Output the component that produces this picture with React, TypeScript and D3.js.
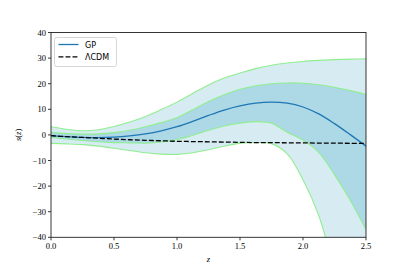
import React from "react";
import * as d3 from "d3";

const zGrid = [0, 0.125, 0.25, 0.375, 0.5, 0.625, 0.75, 0.875, 1.0, 1.125, 1.25, 1.375, 1.5, 1.625, 1.75, 1.875, 2.0, 2.125, 2.25, 2.375, 2.5];
const upper2 = [3.2, 2.2, 1.6, 2.0, 3.3, 5.0, 7.2, 9.9, 12.8, 16.2, 19.5, 22.2, 24.2, 25.9, 27.2, 28.1, 28.7, 29.1, 29.4, 29.6, 29.7];
const upper1 = [1.0, 0.5, 0.3, 0.4, 0.9, 1.8, 3.2, 4.8, 6.7, 9.8, 13.0, 15.7, 17.8, 19.2, 20.0, 20.3, 20.2, 19.6, 18.6, 17.3, 15.8];
const meanGP = [-0.3, -0.7, -1.0, -1.1, -0.9, -0.4, 0.4, 1.6, 3.2, 5.3, 7.6, 9.7, 11.3, 12.4, 12.8, 12.4, 10.9, 8.2, 4.4, 0.1, -4.4];
const lower1 = [-1.0, -1.6, -2.2, -2.7, -3.0, -3.1, -3.2, -2.8, -1.8, -0.1, 1.8, 3.5, 4.6, 5.2, 4.6, 1.0, -2.0, -6.8, -15.5, -25.5, -37];
const lower2 = [-3.3, -3.5, -3.8, -4.4, -5.2, -6.1, -7.0, -7.5, -7.6, -7.0, -5.8, -4.4, -3.3, -3.0, -3.4, -7.4, -17.5, -31.5, -53, -75, -100];
const lcdm = [-0.3, -0.7, -1.0, -1.3, -1.6, -1.9, -2.1, -2.3, -2.5, -2.6, -2.7, -2.8, -2.9, -3.0, -3.0, -3.1, -3.1, -3.2, -3.2, -3.3, -3.3];

const xTicks = [0, 0.5, 1.0, 1.5, 2.0, 2.5];
const yTicks = [-40, -30, -20, -10, 0, 10, 20, 30, 40];

const W = 407, H = 271;
const left = 51, right = 366, top = 32.5, bottom = 237.3;

export default function App() {
  const x = d3.scaleLinear().domain([0, 2.5]).range([left, right]);
  const y = d3.scaleLinear().domain([-40, 40]).range([bottom, top]);
  const curve = d3.curveCatmullRom.alpha(0.5);
  const idx = zGrid.map((_, i) => i);
  const area = (lo: number[], hi: number[]) =>
    d3.area<number>().x(i => x(zGrid[i])).y0(i => y(lo[i])).y1(i => y(hi[i])).curve(curve)(idx) || "";
  const line = (v: number[]) =>
    d3.line<number>().x(i => x(zGrid[i])).y(i => y(v[i])).curve(curve)(idx) || "";
  const serif = "'Liberation Serif', 'DejaVu Serif', serif";
  const sans = "'DejaVu Sans', sans-serif";
  const fmt = (v: number) => (v < 0 ? "\u2212" + Math.abs(v) : String(v));
  return (
    <svg width={W} height={H} style={{ position: "fixed", left: 0, top: 0, background: "#fff" }}>
      <defs>
        <clipPath id="plotclip">
          <rect x={left} y={top} width={right - left} height={bottom - top} />
        </clipPath>
      </defs>
      <g clipPath="url(#plotclip)">
        <path d={area(lower2, upper2)} fill="#d6ebf2" />
        <path d={area(lower1, upper1)} fill="#add8e6" />
        {[upper2, upper1, lower1, lower2].map((s, k) => (
          <path key={k} d={line(s)} fill="none" stroke="#90ee90" strokeWidth={1.1} />
        ))}
        <path d={line(meanGP)} fill="none" stroke="#1f77b4" strokeWidth={1.3} />
        <path d={line(lcdm)} fill="none" stroke="#000" strokeWidth={1.3} strokeDasharray="4.9,2.1" />
      </g>
      <rect x={left} y={top} width={right - left} height={bottom - top} fill="none" stroke="#222" strokeWidth={0.9} />
      {xTicks.map(t => (
        <g key={"x" + t}>
          <line x1={x(t)} x2={x(t)} y1={bottom} y2={bottom + 3} stroke="#222" strokeWidth={0.9} />
          <text x={x(t)} y={bottom + 12} fontSize={8.5} fontFamily={serif} textAnchor="middle">{t.toFixed(1)}</text>
        </g>
      ))}
      {yTicks.map(t => (
        <g key={"y" + t}>
          <line x1={left - 3} x2={left} y1={y(t)} y2={y(t)} stroke="#222" strokeWidth={0.9} />
          <text x={left - 5} y={y(t) + 3} fontSize={8.5} fontFamily={serif} textAnchor="end">{fmt(t)}</text>
        </g>
      ))}
      <text x={(left + right) / 2} y={262} fontSize={8.5} fontFamily={serif} fontStyle="italic" textAnchor="middle">z</text>
      <text transform={`translate(21,${(top + bottom) / 2}) rotate(-90)`} fontSize={8.5} fontFamily={serif} textAnchor="middle">
        <tspan fontStyle="italic">s</tspan>(<tspan fontStyle="italic">z</tspan>)
      </text>
      <g>
        <rect x={54.5} y={37.5} width={62} height={29} rx={2} fill="#fff" fillOpacity={0.8} stroke="#ccc" strokeWidth={0.8} />
        <line x1={58.5} x2={78.5} y1={44.5} y2={44.5} stroke="#1f77b4" strokeWidth={1.3} />
        <text x={85} y={47.5} fontSize={8} fontFamily={sans}>GP</text>
        <line x1={58.5} x2={78.5} y1={56.8} y2={56.8} stroke="#000" strokeWidth={1.3} strokeDasharray="4.9,2.1" />
        <text x={85} y={59.8} fontSize={8} fontFamily={sans}>ΛCDM</text>
      </g>
    </svg>
  );
}
